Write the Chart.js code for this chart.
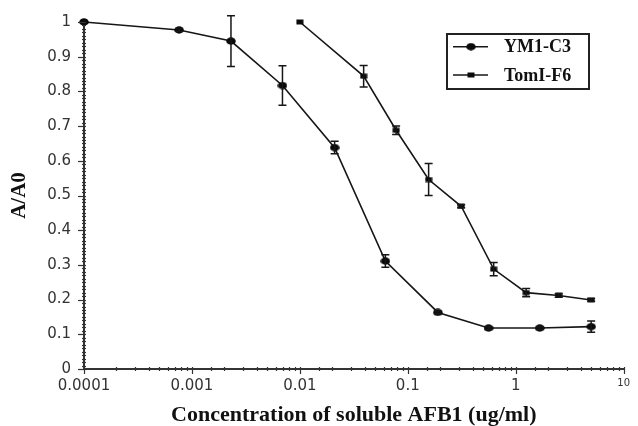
<!DOCTYPE html>
<html>
<head>
<meta charset="utf-8">
<script src="https://cdn.jsdelivr.net/npm/chart.js@4.4.0/dist/chart.umd.min.js"></script>
<style>
    html, body { margin: 0; padding: 0; background: #fff; }
    #wrap { width: 638px; height: 426px; position: relative; }
</style>
</head>
<body>
<div id="wrap"><canvas id="chart"></canvas></div>
<script>
// YM1-C3 : 3-fold dilution series
var ymConc = [0.0001, 0.00076, 0.0023, 0.0069, 0.021, 0.062, 0.19, 0.56, 1.67, 5];
var ymVals = [1.0, 0.977, 0.945, 0.817, 0.638, 0.311, 0.163, 0.118, 0.118, 0.122];
var ymErr  = [0, 0.004, 0.073, 0.057, 0.018, 0.018, 0.004, 0.004, 0.004, 0.016];

// TomI-F6 : 2-fold dilution series
var tomConc = [0.01, 0.039, 0.078, 0.156, 0.3125, 0.625, 1.25, 2.5, 5];
var tomVals = [1.0, 0.844, 0.688, 0.546, 0.469, 0.288, 0.220, 0.212, 0.199];
var tomErr  = [0, 0.031, 0.012, 0.046, 0.004, 0.019, 0.012, 0.005, 0.004];

var seriesNames = ['YM1-C3', 'TomI-F6'];
var yTicks = [0, 0.1, 0.2, 0.3, 0.4, 0.5, 0.6, 0.7, 0.8, 0.9, 1];
var xTickLabels = ['0.0001', '0.001', '0.01', '0.1', '1', '10'];

var ink = '#161616';

function makeMarker(kind) {
    var c = document.createElement('canvas');
    var g = c.getContext('2d');
    if (kind == 'ellipse') {
        c.width = 10; c.height = 8;
        g.fillStyle = '#0a0a0a';
        g.beginPath();
        g.ellipse(5, 4, 4.8, 3.7, 0, 0, Math.PI * 2);
        g.fill();
    } else {
        c.width = 8; c.height = 6;
        g.fillStyle = '#0a0a0a';
        g.fillRect(0.5, 0.5, 7, 5);
    }
    return c;
}
var dotImg = makeMarker('ellipse');
var boxImg = makeMarker('rect');

function toPoints(xs, ys) {
    var out = [];
    for (var i = 0; i < xs.length; i++) out.push({x: xs[i], y: ys[i]});
    return out;
}

function isDecade(v) {
    var l = Math.log10(v);
    return Math.abs(l - Math.round(l)) < 1e-9;
}

// axis tick marks that cross the axis line, error bars, legend box
var extras = {
    id: 'extras',
    afterDatasetsDraw: function (chart) {
        var ctx = chart.ctx;
        var xs = chart.scales.x, ys = chart.scales.y;
        var ax = xs.left, ay = ys.bottom;
        ctx.save();
        ctx.strokeStyle = '#333';
        ctx.lineWidth = 1.2;
        // y minor / major
        for (var k = 0; k <= 100; k++) {
            var py = Math.round(ys.getPixelForValue(k / 100)) + 0.5;
            ctx.beginPath();
            if (k % 10 == 0) { ctx.moveTo(ax - 6, py); ctx.lineTo(ax + 2, py); }
            else { ctx.moveTo(ax - 2, py); ctx.lineTo(ax + 2, py); }
            ctx.stroke();
        }
        // x ticks from the log scale
        xs.ticks.forEach(function (t) {
            var px = Math.round(xs.getPixelForValue(t.value)) + 0.5;
            ctx.beginPath();
            if (isDecade(t.value)) { ctx.moveTo(px, ay - 2); ctx.lineTo(px, ay + 5); }
            else { ctx.moveTo(px, ay - 2); ctx.lineTo(px, ay + 2); }
            ctx.stroke();
        });

        // error bars
        ctx.strokeStyle = ink;
        ctx.lineWidth = 1.5;
        var sets = [[ymConc, ymVals, ymErr], [tomConc, tomVals, tomErr]];
        sets.forEach(function (s) {
            for (var i = 0; i < s[0].length; i++) {
                if (!s[2][i]) continue;
                var px = xs.getPixelForValue(s[0][i]);
                var top = ys.getPixelForValue(s[1][i] + s[2][i]);
                var bot = ys.getPixelForValue(s[1][i] - s[2][i]);
                ctx.beginPath();
                ctx.moveTo(px, top); ctx.lineTo(px, bot);
                ctx.moveTo(px - 4, top); ctx.lineTo(px + 4, top);
                ctx.moveTo(px - 4, bot); ctx.lineTo(px + 4, bot);
                ctx.stroke();
            }
        });

        // legend box
        var lx = 447, ly = 34, lw = 142, lh = 55;
        ctx.lineWidth = 2;
        ctx.strokeStyle = '#222';
        ctx.strokeRect(lx, ly, lw, lh);
        ctx.font = 'bold 18px "Liberation Serif", "DejaVu Serif", serif';
        ctx.textBaseline = 'middle';
        ctx.fillStyle = '#111';
        var rows = [[46.7, dotImg], [75, boxImg]];
        rows.forEach(function (r, i) {
            ctx.beginPath();
            ctx.lineWidth = 1.6;
            ctx.strokeStyle = ink;
            ctx.moveTo(453, r[0]); ctx.lineTo(488, r[0]);
            ctx.stroke();
            ctx.drawImage(r[1], 471 - r[1].width / 2, r[0] - r[1].height / 2);
            ctx.fillText(seriesNames[i], 504, r[0] + 1);
        });
        ctx.restore();
    }
};

new Chart(document.getElementById('chart'), {
    type: 'line',
    data: {
        datasets: [
            {
                label: seriesNames[0],
                data: toPoints(ymConc, ymVals),
                borderColor: ink,
                borderWidth: 1.6,
                pointStyle: dotImg,
                clip: false
            },
            {
                label: seriesNames[1],
                data: toPoints(tomConc, tomVals),
                borderColor: ink,
                borderWidth: 1.6,
                pointStyle: boxImg,
                clip: false
            }
        ]
    },
    options: {
        responsive: true,
        maintainAspectRatio: false,
        animation: false,
        devicePixelRatio: 1,
        layout: { padding: { top: 22, right: 6, left: 0, bottom: 0 } },
        plugins: {
            legend: { display: false },
            tooltip: { enabled: false }
        },
        scales: {
            x: {
                type: 'logarithmic',
                min: 0.0001,
                max: 10,
                afterFit: function (s) { s.height = 57; },
                grid: { display: false, drawTicks: false },
                border: { display: true, color: '#333', width: 2 },
                ticks: {
                    autoSkip: false,
                    maxRotation: 0,
                    padding: 8,
                    color: '#333',
                    font: function (c) {
                        if (c.tick && c.tick.value == 10) return { family: '"DejaVu Sans", sans-serif', size: 10 };
                        return { family: '"DejaVu Sans", sans-serif', size: 15 };
                    },
                    callback: function (v) {
                        if (!isDecade(v)) return '';
                        return xTickLabels[Math.round(Math.log10(v)) + 4];
                    }
                },
                title: {
                    display: true,
                    text: 'Concentration of soluble AFB1 (ug/ml)',
                    color: '#111',
                    font: { family: '"Liberation Serif", "DejaVu Serif", serif', size: 22, weight: 'bold', lineHeight: 1.0 },
                    padding: { top: 0, bottom: 0 }
                }
            },
            y: {
                min: 0,
                max: 1,
                afterFit: function (s) { s.width = 84; },
                afterBuildTicks: function (s) {
                    s.ticks = yTicks.map(function (v) { return { value: v }; });
                },
                grid: { display: false, drawTicks: false },
                border: { display: true, color: '#333', width: 2 },
                ticks: {
                    padding: 13,
                    color: '#333',
                    font: { family: '"DejaVu Sans", sans-serif', size: 15 },
                    callback: function (v) { return String(+v.toFixed(1)); }
                },
                title: {
                    display: true,
                    text: 'A/A0',
                    color: '#111',
                    font: { family: '"Liberation Serif", "DejaVu Serif", serif', size: 21, weight: 'bold', lineHeight: 1.0 },
                    padding: { top: 9, bottom: 0 }
                }
            }
        }
    },
    plugins: [extras]
});
</script>
</body>
</html>
